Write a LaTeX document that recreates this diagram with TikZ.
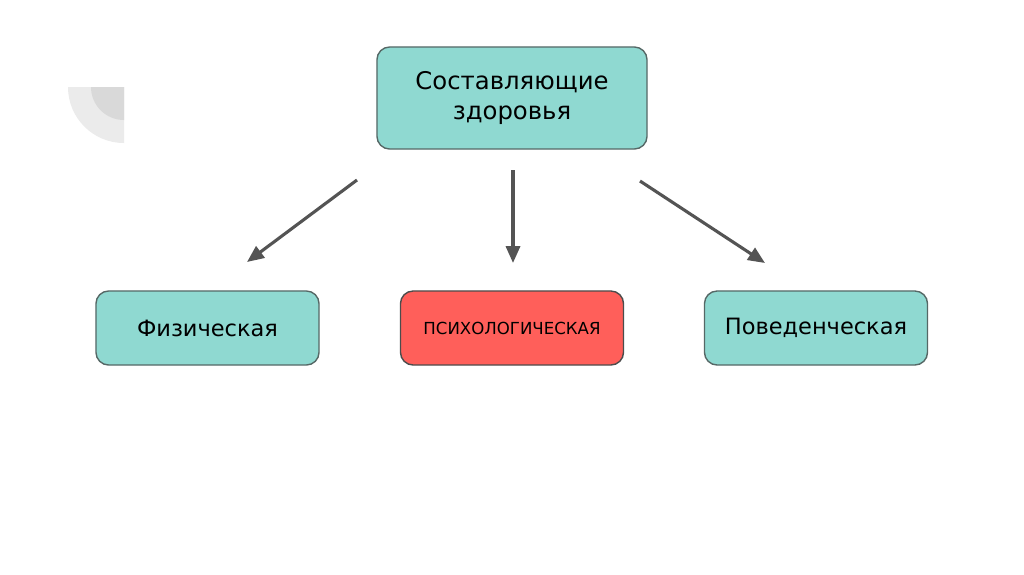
\documentclass[tikz,border=0pt]{standalone}
\usepackage{xcolor}
\usepackage{fontspec}
\setmainfont{DejaVu Sans}
\usetikzlibrary{arrows.meta}

\definecolor{tealbox}{HTML}{8FD9D1}
\definecolor{redbox}{HTML}{FF5F5A}
\definecolor{edge}{HTML}{566866}
\definecolor{arrowgrey}{HTML}{545454}

\begin{document}
\begin{tikzpicture}[x=0.025cm,y=-0.025cm,
    box/.style={draw=edge,line width=1pt,rounded corners=9pt,fill=tealbox,
      minimum width=5.575cm,minimum height=1.85cm,align=center,font=\fontsize{16}{19}\selectfont},
    link/.style={arrowgrey,line width=2.2pt,-{Triangle[length=12pt,width=10pt]}}]
          \useasboundingbox (0,0) rectangle (1024,574);
          \fill[white] (0,0) rectangle (1024,574);

          % corner ornament
          \fill[black!8] (124,87) -- (68,87) arc[start angle=180,end angle=270,radius=1.4cm] -- cycle;
          \fill[black!15] (124,87) -- (91,87) arc[start angle=180,end angle=270,radius=0.825cm] -- cycle;

          \node[box,minimum width=6.75cm,minimum height=2.55cm,
            font=\fontsize{17.3}{21.5}\selectfont] (top) at (512,98) {Составляющие\\здоровья};
          \node[box] (phys) at (207.5,328) {Физическая};
          \node[box,fill=redbox,draw=black!70,font=\fontsize{11.8}{14}\selectfont] (psy) at (512,328) {ПСИХОЛОГИЧЕСКАЯ};
          \node[box] (beh) at (816,328) {Поведенческая};

          \coordinate (a1) at (357,180);
          \coordinate (b1) at (247,262);
          \coordinate (a2) at (513,170);
          \coordinate (b2) at (513,263);
          \coordinate (a3) at (640,181);
          \coordinate (b3) at (765,263);

          \draw[link] (a1) -- (b1);
          \draw[link] (a2) -- (b2);
          \draw[link] (a3) -- (b3);

          \end{tikzpicture}
\end{document}
